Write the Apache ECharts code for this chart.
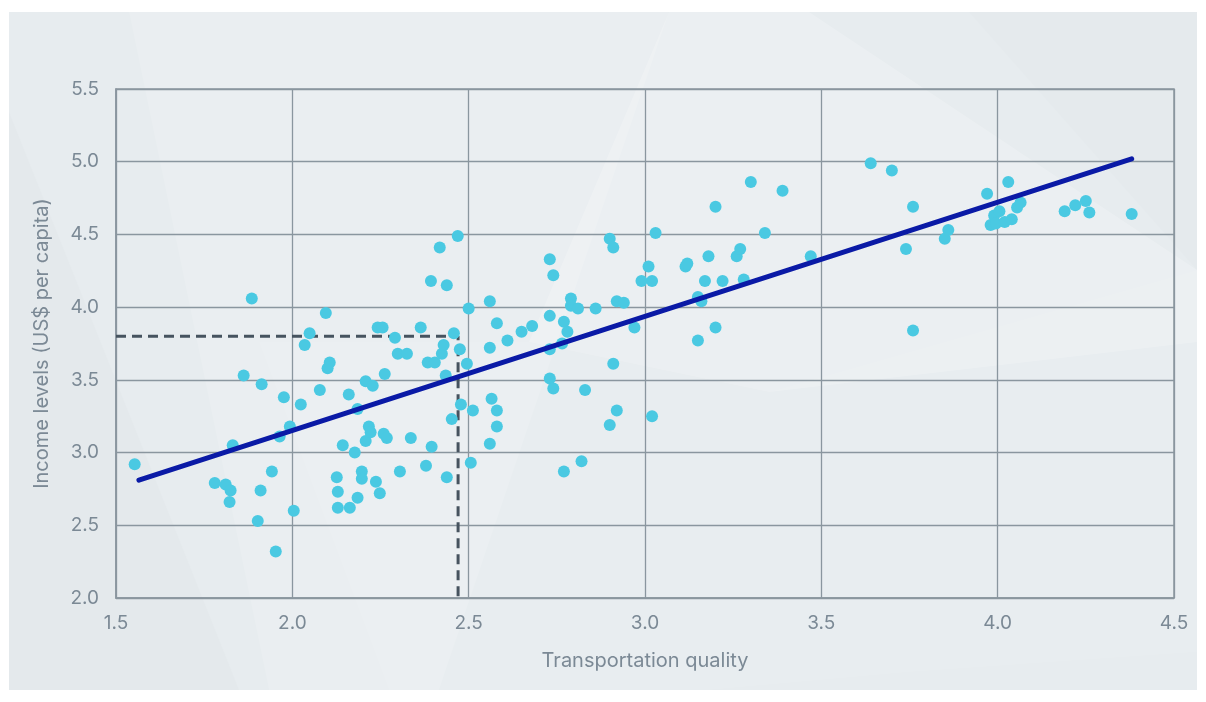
<!DOCTYPE html>
<html>
<head>
<meta charset="utf-8">
<script src="https://cdn.jsdelivr.net/npm/echarts@6/dist/echarts.min.js"></script>
<style>
html,body{margin:0;padding:0;background:#ffffff;}
#wrap{position:relative;width:1206px;height:702px;background:#ffffff;}
#panel{position:absolute;left:9px;top:12px;width:1188px;height:678px;background:#e7ecef;overflow:hidden;}
#bg{position:absolute;left:0;top:0;}
#chart{position:absolute;left:0;top:0;width:1206px;height:702px;}
</style>
</head>
<body>
<div id="wrap">
  <div id="panel">
    <svg id="bg" width="1188" height="678" viewBox="0 0 1188 678">
      <polygon points="0,100 0,678 230,678" fill="#e4e9ec"/>
      <polygon points="120,0 660,0 430,678 260,678" fill="#ffffff" fill-opacity="0.12"/>
      <polygon points="660,0 800,0 1188,258 1188,330 760,380 520,330" fill="#ffffff" fill-opacity="0.2"/>
      <polygon points="250,330 520,330 760,380 1188,258 1188,640 900,660 700,678 380,678" fill="#ffffff" fill-opacity="0.07"/>
      <polygon points="960,0 1188,0 1188,258" fill="#e5eaed"/>
    </svg>
  </div>
  <div id="chart"></div>
</div>
<script>
// ---- data ----
const xTicks = ['1.5', '2.0', '2.5', '3.0', '3.5', '4.0', '4.5'];
const yTicks = ['2.0', '2.5', '3.0', '3.5', '4.0', '4.5', '5.0', '5.5'];

const transportQuality = [
  1.553, 1.780, 1.811, 1.825, 1.822, 1.831, 1.862, 1.885, 1.910, 1.902,
  1.913, 1.942, 1.953, 1.964, 1.976, 1.993, 2.004, 2.024, 2.035, 2.049,
  2.078, 2.095, 2.100, 2.106, 2.126, 2.129, 2.129, 2.143, 2.160, 2.163,
  2.177, 2.185, 2.185, 2.197, 2.197, 2.208, 2.208, 2.217, 2.222, 2.228,
  2.237, 2.242, 2.256, 2.248, 2.259, 2.268, 2.262, 2.291, 2.299, 2.325,
  2.305, 2.336, 2.364, 2.379, 2.384, 2.404, 2.393, 2.395, 2.418, 2.424,
  2.429, 2.438, 2.435, 2.438, 2.452, 2.458, 2.469, 2.475, 2.478, 2.495,
  2.500, 2.506, 2.512,
  2.56, 2.58, 2.56, 2.61, 2.65, 2.68, 2.73, 2.73, 2.74, 2.77,
  2.78, 2.79, 2.79, 2.81, 2.86, 2.765, 2.73, 2.73, 2.74, 2.83,
  2.565, 2.58, 2.58, 2.56, 2.77, 2.82, 2.90, 2.91, 2.92, 2.94,
  2.91, 2.92, 2.90, 2.97, 2.99, 3.01, 3.02, 3.03, 3.02, 3.115,
  3.12, 3.15, 3.16, 3.15, 3.18, 3.17, 3.20, 3.20, 3.22, 3.26,
  3.27, 3.28, 3.30, 3.34, 3.39, 3.47, 3.64, 3.70, 3.76, 3.74,
  3.76, 3.85, 3.86, 3.97, 4.03, 3.99, 4.005, 3.98, 3.995, 4.02,
  4.04, 4.055, 4.065, 4.19, 4.22, 4.25, 4.26, 4.38
];
const incomeLevels = [
  2.92, 2.79, 2.78, 2.74, 2.66, 3.05, 3.53, 4.06, 2.74, 2.53,
  3.47, 2.87, 2.32, 3.11, 3.38, 3.18, 2.60, 3.33, 3.74, 3.82,
  3.43, 3.96, 3.58, 3.62, 2.83, 2.73, 2.62, 3.05, 3.40, 2.62,
  3.00, 3.30, 2.69, 2.87, 2.82, 3.49, 3.08, 3.18, 3.14, 3.46,
  2.80, 3.86, 3.86, 2.72, 3.13, 3.10, 3.54, 3.79, 3.68, 3.68,
  2.87, 3.10, 3.86, 2.91, 3.62, 3.62, 4.18, 3.04, 4.41, 3.68,
  3.74, 4.15, 3.53, 2.83, 3.23, 3.82, 4.49, 3.71, 3.33, 3.61,
  3.99, 2.93, 3.29,
  4.04, 3.89, 3.72, 3.77, 3.83, 3.87, 3.94, 4.33, 4.22, 3.90,
  3.83, 4.06, 4.01, 3.99, 3.99, 3.75, 3.71, 3.51, 3.44, 3.43,
  3.37, 3.29, 3.18, 3.06, 2.87, 2.94, 4.47, 4.41, 4.04, 4.03,
  3.61, 3.29, 3.19, 3.86, 4.18, 4.28, 4.18, 4.51, 3.25, 4.28,
  4.30, 4.07, 4.04, 3.77, 4.35, 4.18, 4.69, 3.86, 4.18, 4.35,
  4.40, 4.19, 4.86, 4.51, 4.80, 4.35, 4.99, 4.94, 4.69, 4.40,
  3.84, 4.47, 4.53, 4.78, 4.86, 4.63, 4.66, 4.565, 4.575, 4.585,
  4.605, 4.685, 4.72, 4.66, 4.70, 4.73, 4.65, 4.64
];
// fitted trend line end points
const trendX = [1.565, 4.38];
const trendY = [2.81, 5.02];
// highlighted reference point (dashed guide)
const refX = 2.47;
const refY = 3.80;

const xMin = 1.5, xMax = 4.5, xStep = 0.5;
const yMin = 2.0, yMax = 5.5, yStep = 0.5;

// ---- build ----
const points = transportQuality.map((x, i) => [x, incomeLevels[i]]);
const trend = trendX.map((x, i) => [x, trendY[i]]);
const guide = [[xMin, refY], [refX, refY], [refX, yMin]];

const gridColor = '#8a969f';
const labelColor = '#7b8995';
const font = 'Inter, Roboto, "Noto Sans", sans-serif';

const chart = echarts.init(document.getElementById('chart'), null, {renderer: 'canvas'});
chart.setOption({
  backgroundColor: 'transparent',
  animation: false,
  grid: {left: 116, right: 32, top: 89, bottom: 104, show: true, borderColor: gridColor, borderWidth: 1.5, backgroundColor: 'transparent'},
  xAxis: {
    type: 'value', min: xMin, max: xMax, interval: xStep,
    name: 'Transportation quality', nameLocation: 'middle', nameGap: 53,
    nameTextStyle: {color: labelColor, fontSize: 20, fontFamily: font},
    axisLine: {show: true, lineStyle: {color: gridColor, width: 1.5}},
    axisTick: {show: false},
    axisLabel: {color: labelColor, fontSize: 19, fontFamily: font, margin: 16,
      formatter: v => xTicks[Math.round((v - xMin) / xStep)] ?? v.toFixed(1)},
    splitLine: {show: true, lineStyle: {color: gridColor, width: 1.3}}
  },
  yAxis: {
    type: 'value', min: yMin, max: yMax, interval: yStep,
    name: 'Income levels (US$ per capita)', nameLocation: 'middle', nameGap: 64, nameRotate: 90,
    nameTextStyle: {color: labelColor, fontSize: 20, fontFamily: font},
    axisLine: {show: true, lineStyle: {color: gridColor, width: 1.5}},
    axisTick: {show: false},
    axisLabel: {color: labelColor, fontSize: 19, fontFamily: font, margin: 17,
      formatter: v => yTicks[Math.round((v - yMin) / yStep)] ?? v.toFixed(1)},
    splitLine: {show: true, lineStyle: {color: gridColor, width: 1.3}}
  },
  series: [
    {
      type: 'line', data: guide, symbol: 'none', z: 3,
      lineStyle: {color: '#46535f', width: 3, type: [10, 6]}
    },
    {
      type: 'scatter', data: points, symbolSize: 12, z: 4,
      itemStyle: {color: '#4ac9e2', opacity: 1}
    },
    {
      type: 'line', data: trend, symbol: 'none', z: 5,
      lineStyle: {color: '#0a1aa6', width: 5, cap: 'round'}
    }
  ]
});
</script>
</body>
</html>
